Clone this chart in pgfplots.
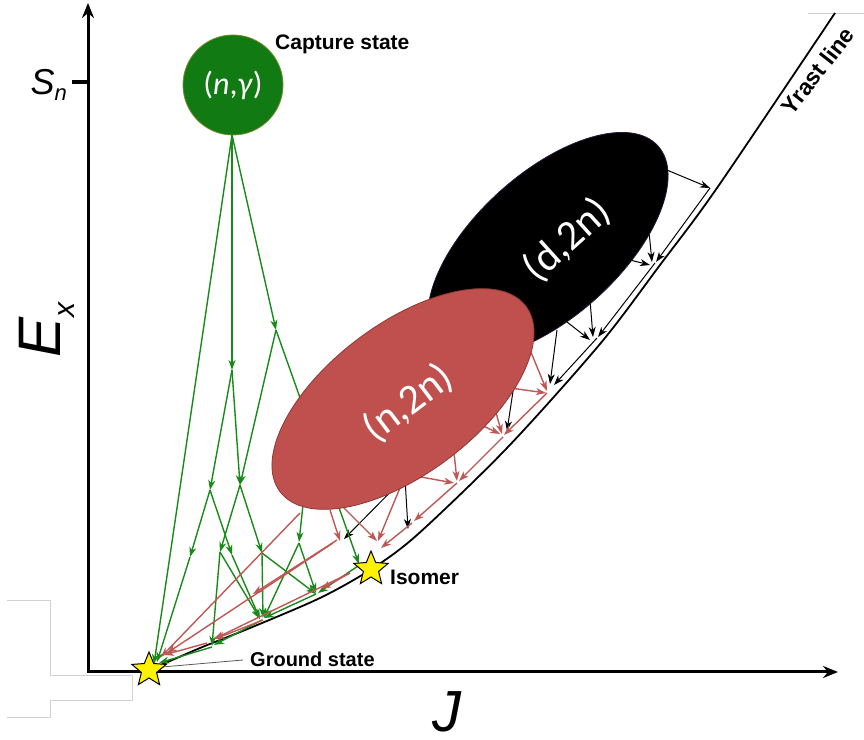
\documentclass[border=0pt]{standalone}
\usepackage{pgfplots}
\pgfplotsset{compat=1.18}
\usepackage{pgfplotstable}
\usetikzlibrary{arrows.meta}
\usepackage{fontspec}
\setmainfont{Liberation Sans}
\newfontfamily\calib{Carlito}
\definecolor{cgreen}{RGB}{18,122,18}
\definecolor{lgreen}{RGB}{25,138,25}
\definecolor{cred}{RGB}{192,80,77}
\definecolor{dred}{RGB}{140,56,54}
\definecolor{lred}{RGB}{190,88,85}
\definecolor{dpurp}{RGB}{40,25,60}

\pgfdeclareplotmark{ystar}{%
  \pgfpathmoveto{\pgfqpointpolar{90}{18bp}}%
  \pgfpathlineto{\pgfqpointpolar{126}{8bp}}%
  \pgfpathlineto{\pgfqpointpolar{162}{18bp}}%
  \pgfpathlineto{\pgfqpointpolar{198}{8bp}}%
  \pgfpathlineto{\pgfqpointpolar{234}{18bp}}%
  \pgfpathlineto{\pgfqpointpolar{270}{8bp}}%
  \pgfpathlineto{\pgfqpointpolar{306}{18bp}}%
  \pgfpathlineto{\pgfqpointpolar{342}{8bp}}%
  \pgfpathlineto{\pgfqpointpolar{18}{18bp}}%
  \pgfpathlineto{\pgfqpointpolar{54}{8bp}}%
  \pgfpathclose
  \pgfusepathqfillstroke}
\pgfdeclareplotmark{redell}{%
  \pgfpathellipse{\pgfpointorigin}{\pgfqpointpolar{37}{154bp}}{\pgfqpointpolar{127}{75bp}}%
  \pgfusepathqfillstroke}
\pgfdeclareplotmark{blkell}{%
  \pgfpathellipse{\pgfpointorigin}{\pgfqpointpolar{42}{148bp}}{\pgfqpointpolar{132}{72bp}}%
  \pgfusepathqfillstroke}

\pgfplotstableread{
x y xe ye
232 605 154 76
232 605 232 370
232 605 276 410
232 370 210 250
232 370 240 255
276 410 240 255
276 410 359 176
210 250 190 183
210 250 232 185
240 255 220 188
240 255 262 187
190 183 157 78
220 188 212 94
220 188 260 121
232 185 260 121
262 187 263 122
262 187 316 146
303 235 299 198
299 197 264 122
299 197 316 147
358 174 318 147
316 146 264 122
262 120 214 95
212 93 159 77
}\greenarrows

\pgfplotstableread{
x y xe ye
530 390 547 349
503 353 546 347
493 338 502 306
477 317 500 306
453 297 457 259
410 265 454 257
402 257 378 199
343 233 377 199
547 347 504 305
503 303 459 259
457 257 414 219
412 217 381 192
300 227 161 83
333 197 167 87
337 200 253 146
350 167 214 101
330 230 340 199
350 167 321 151
263 120 215 101
207 97 164 85
}\redarrows

\pgfplotstableread{
x y xe ye
662 572 710 552
648 518 652 478
622 482 650 475
590 440 593 403
567 418 590 400
557 410 550 356
520 395 507 309
405 262 408 211
420 278 344 201
710 552 656 478
655 477 598 403
597 402 554 355
}\blackarrows

\begin{document}
\begin{tikzpicture}
\begin{axis}[x=1bp, y=1bp, xmin=0, xmax=864, ymin=0, ymax=740,
  hide axis, clip=false]

% stray grey frame lines of the source image
\addplot[gray!35, line width=0.8bp] coordinates {(7,140)(50,140)(50,65)(132,65)(132,40)(50,40)(50,23)(7,23)};
\addplot[gray!35, line width=0.8bp] coordinates {(808,727)(864,727)};

% axes
\addplot[line width=3bp, line join=miter,
  {Stealth[length=15bp,width=12bp]}-{Stealth[length=15bp,width=12bp]}]
  coordinates {(88,737)(88,68)(838,68)};
\addplot[line width=4bp] coordinates {(72,658)(88,658)};

% yrast line
\addplot[black, line width=1.8bp, smooth] coordinates {
 (152,71)(200,92)(250,112)(320,142)(370,170)(417,205)(507,292)(600,396)(660,475)(717,552)(835,727)};

% black ellipse (d,2n)
\addplot[only marks, mark=blkell, mark options={fill=black, draw=dpurp, line width=0.8bp}] coordinates {(548,495)};
\addplot[black, line width=1bp, -{Stealth[length=10bp,width=7bp,inset=3bp]},
  quiver={u={\thisrow{xe}-\thisrow{x}}, v={\thisrow{ye}-\thisrow{y}}}] table[x=x,y=y] {\blackarrows};

% green cascade
\addplot[lgreen, line width=1.4bp, -{Stealth[length=10bp,width=7bp,inset=3bp]},
  quiver={u={\thisrow{xe}-\thisrow{x}}, v={\thisrow{ye}-\thisrow{y}}}] table[x=x,y=y] {\greenarrows};

% red ellipse (n,2n)
\addplot[only marks, mark=redell, mark options={fill=cred, draw=dred, line width=0.8bp}] coordinates {(403,341)};
\addplot[lred, line width=1.4bp, -{Stealth[length=10bp,width=7bp,inset=3bp]},
  quiver={u={\thisrow{xe}-\thisrow{x}}, v={\thisrow{ye}-\thisrow{y}}}] table[x=x,y=y] {\redarrows};

% capture state circle
\addplot[only marks, mark=*, mark size=50bp, mark options={fill=cgreen, draw=black!40!green!40!brown, line width=0.8bp}] coordinates {(233,655)};

% stars
\addplot[only marks, mark=ystar, mark options={fill=yellow, draw=black, line width=1bp}] coordinates {(149,70)(371,171)};

% ground state leader
\addplot[gray!70!black, line width=0.8bp] coordinates {(243,80)(162,73)};

% anchor points for the texts
\coordinate (tcap) at (axis cs:233,655);
\coordinate (tn2n) at (axis cs:408,337);
\coordinate (td2n) at (axis cs:567,500);
\coordinate (lcap) at (axis cs:275,690);
\coordinate (liso) at (axis cs:390,155);
\coordinate (lgnd) at (axis cs:250,73);
\coordinate (lyr) at (axis cs:792,623);
\coordinate (lsn) at (axis cs:67,645);
\coordinate (lex) at (axis cs:60,382);
\coordinate (lj) at (axis cs:447,8);
\end{axis}

\node[text=white, font=\calib\fontsize{32bp}{36bp}\selectfont] at (tcap) {(\textit{n},\textit{γ})};
\node[text=white, rotate=37, font=\calib\fontsize{42bp}{46bp}\selectfont] at (tn2n) {(n,2n)};
\node[text=white, rotate=42, font=\calib\fontsize{42bp}{46bp}\selectfont] at (td2n) {(d,2n)};

\node[anchor=base west, inner sep=0pt, font=\bfseries\fontsize{21bp}{25bp}\selectfont] at (lcap) {Capture state};
\node[anchor=base west, inner sep=0pt, font=\bfseries\fontsize{21bp}{25bp}\selectfont] at (liso) {Isomer};
\node[anchor=base west, inner sep=0pt, font=\bfseries\fontsize{20bp}{24bp}\selectfont] at (lgnd) {Ground state};
\node[anchor=base west, inner sep=0pt, rotate=52, font=\bfseries\fontsize{23bp}{26bp}\selectfont] at (lyr) {Yrast line};

\node[anchor=base east, inner sep=0pt, font=\fontsize{36bp}{40bp}\selectfont] at (lsn) {\textit{S}{\fontsize{22bp}{24bp}\selectfont\raisebox{-6bp}{\textit{n}}}};
\node[anchor=base west, inner sep=0pt, rotate=90, font=\fontsize{60bp}{64bp}\selectfont] at (lex) {\textit{E}{\fontsize{30bp}{32bp}\selectfont\raisebox{-14bp}{\textit{x}}}};
\node[anchor=base, inner sep=0pt, font=\fontsize{58bp}{62bp}\selectfont] at (lj) {\textit{J}};

\pgfresetboundingbox
\path[use as bounding box] (current axis.south west) rectangle (current axis.north east);
\end{tikzpicture}
\end{document}
